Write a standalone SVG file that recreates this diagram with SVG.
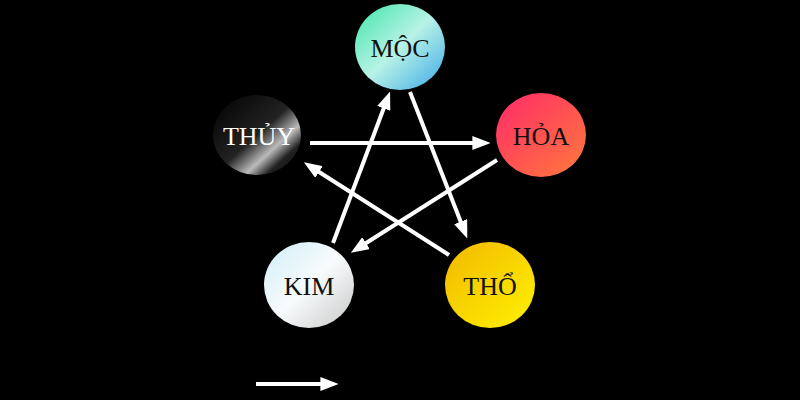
<svg xmlns="http://www.w3.org/2000/svg" width="800" height="400" viewBox="0 0 800 400">
<defs>
<style>
.lbl{font-family:"Liberation Serif",serif;font-size:26px;fill:#111;text-anchor:middle}
.c{stroke:#fff;stroke-width:4;fill:none;marker-end:url(#ah)}
</style>
<marker id="ah" viewBox="0 0 10 10" refX="2" refY="5" markerWidth="4.5" markerHeight="3.5" orient="auto" markerUnits="strokeWidth" preserveAspectRatio="none"><path d="M0,0L10,5L0,10z" fill="#fff"/></marker>
<linearGradient id="gm" x1="0" y1="0" x2="1" y2="1"><stop offset="0" stop-color="#3ee6a8"/><stop offset="0.5" stop-color="#b8f2e6"/><stop offset="1" stop-color="#3aa8e8"/></linearGradient>
<linearGradient id="gh" x1="0" y1="0" x2="1" y2="1"><stop offset="0" stop-color="#ff2a6a"/><stop offset="1" stop-color="#ff7a3a"/></linearGradient>
<linearGradient id="gt" x1="0" y1="0" x2="1" y2="1"><stop offset="0" stop-color="#000"/><stop offset="0.5" stop-color="#222"/><stop offset="0.68" stop-color="#bbb"/><stop offset="0.8" stop-color="#222"/><stop offset="1" stop-color="#000"/></linearGradient>
<linearGradient id="gk" x1="0" y1="0" x2="1" y2="1"><stop offset="0" stop-color="#cfeef8"/><stop offset="0.5" stop-color="#f8fbfc"/><stop offset="1" stop-color="#c8c8c8"/></linearGradient>
<linearGradient id="go" x1="0" y1="0" x2="1" y2="1"><stop offset="0" stop-color="#f2b800"/><stop offset="1" stop-color="#fff200"/></linearGradient>
</defs>
<rect width="800" height="400" fill="#000"/>
<g id="connectors">
<line class="c" x1="310" y1="143" x2="476" y2="143"/>
<line class="c" x1="410" y1="92" x2="462" y2="225"/>
<line class="c" x1="497" y1="160" x2="363" y2="245"/>
<line class="c" x1="449" y1="255" x2="316" y2="170"/>
<line class="c" x1="333" y1="243" x2="385" y2="105"/>
<line class="c" x1="256" y1="384" x2="324" y2="384"/>
</g>
<g id="moc"><ellipse cx="400" cy="47" rx="45" ry="43" fill="url(#gm)"/><text class="lbl" x="400" y="57">MỘC</text></g>
<g id="hoa"><ellipse cx="541" cy="135" rx="45" ry="42" fill="url(#gh)"/><text class="lbl" x="541" y="145">HỎA</text></g>
<g id="thuy"><ellipse cx="257" cy="135" rx="44" ry="40" fill="url(#gt)"/><text class="lbl" x="259" y="145" style="fill:#fff">THỦY</text></g>
<g id="kim"><ellipse cx="309" cy="285" rx="45" ry="43" fill="url(#gk)"/><text class="lbl" x="309" y="295">KIM</text></g>
<g id="tho"><ellipse cx="490" cy="285" rx="45" ry="43" fill="url(#go)"/><text class="lbl" x="490" y="295">THỔ</text></g>
</svg>
